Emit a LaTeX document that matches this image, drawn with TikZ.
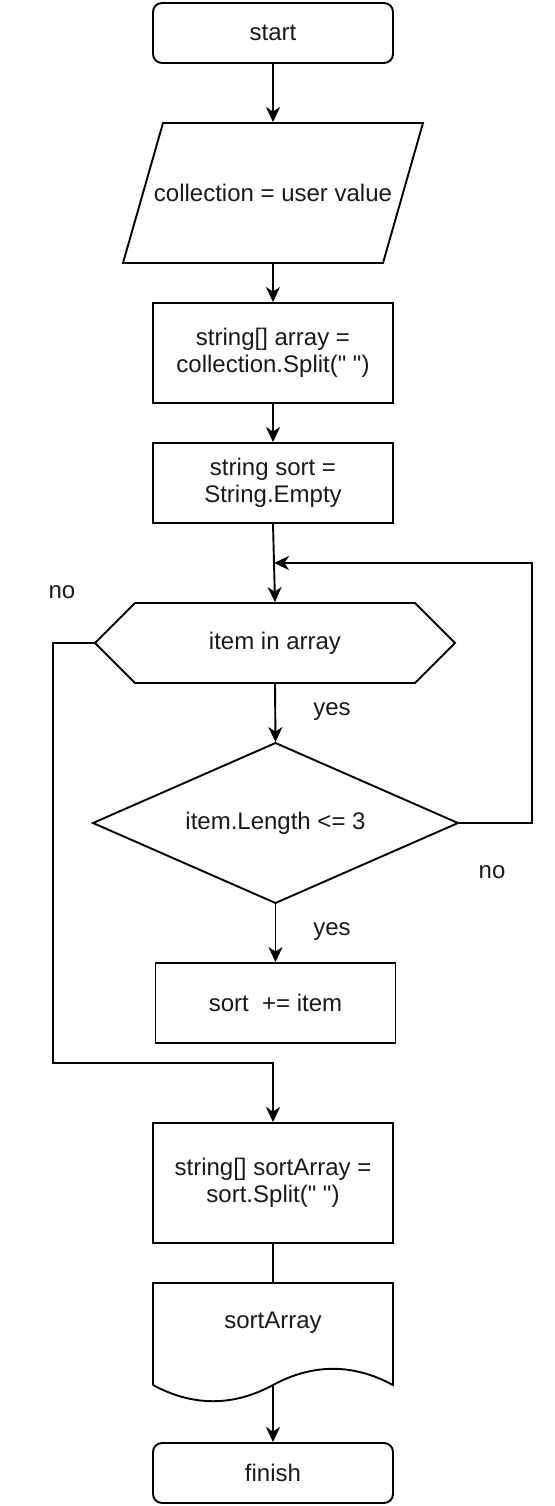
\documentclass[tikz,border=0pt]{standalone}
\usepackage{fontspec}
\setmainfont{Liberation Sans}[Ligatures=TeXOff]
\usetikzlibrary{arrows.meta}
\begin{document}
\begin{tikzpicture}[x=1pt,y=-1pt,line width=1.9pt,
  every node/.style={font=\fontsize{24}{27.5}\selectfont,align=center,inner sep=0pt,text=black!90},
  rbox/.style={draw,rectangle,rounded corners=9pt,minimum width=240pt},
  pbox/.style={draw,rectangle,minimum width=240pt},
  ghost/.style={draw=none,rectangle},
  lbl/.style={draw=none},
  arr/.style={-{Stealth[length=15pt,width=14pt,inset=4.5pt]}}]
\useasboundingbox (0,0) rectangle (554,1506);
% nodes
\node[rbox,minimum height=60pt] (start) at (273,33) {start};
\node[ghost,minimum width=300pt,minimum height=140pt] (input) at (273,193) {collection = user value};
\draw (163,123) -- (423,123) -- (383,263) -- (123,263) -- cycle;
\node[pbox,minimum height=100pt] (split) at (273,353) {string[] array =\\collection.Split(" ")};
\node[pbox,minimum height=80pt] (init) at (273,483) {string sort =\\String.Empty};
\node[ghost,minimum width=360pt,minimum height=80pt] (hex) at (275,643) {item in array};
\draw (95,643) -- (135,603) -- (415,603) -- (455,643) -- (415,683) -- (135,683) -- cycle;
\node[ghost,minimum width=365pt,minimum height=160pt] (dia) at (275.5,823) {item.Length <= 3};
\draw (93,823) -- (275.5,743) -- (458,823) -- (275.5,903) -- cycle;
\node[pbox,minimum height=80pt,minimum width=240pt] (add) at (275.5,1003) {sort\ \ += item};
\node[pbox,minimum height=120pt] (sa) at (273,1183) {string[] sortArray =\\sort.Split(" ")};
\node[ghost,minimum width=240pt,minimum height=80pt] (doc) at (273,1323) {sortArray};
\draw (153,1385) -- (153,1283) -- (393,1283) -- (393,1385)
  .. controls (353,1363.4) and (313,1363.4) .. (273,1385)
  .. controls (233,1406.6) and (193,1406.6) .. (153,1385);
\coordinate (docb) at (273,1385);
\node[rbox,minimum height=60pt] (finish) at (273,1473) {finish};
\coordinate (j) at (274,563);
% connectors
\draw[arr] (start.south) -- (input.north);
\draw[arr] (input.south) -- (split.north);
\draw[arr] (split.south) -- (init.north);
\draw[arr] (init.south) -- (hex.north);
\draw[arr] (hex.south) -- (dia.north);
\draw[arr] (dia.south) -- (add.north);
\draw[arr] (dia.east) -- ++(73,0) |- (j);
\draw[arr] (hex.west) -| (53,1063) -| (sa.north);
\draw (sa.south) -- (doc.north);
\draw[arr] (docb) -- (finish.north);
% labels
\node[lbl] (no1) at (62,592) {no};
\node[lbl] (yes1) at (332,712) {yes};
\node[lbl] (yes2) at (332,932) {yes};
\node[lbl] (no2) at (492,872) {no};
\end{tikzpicture}
\end{document}
